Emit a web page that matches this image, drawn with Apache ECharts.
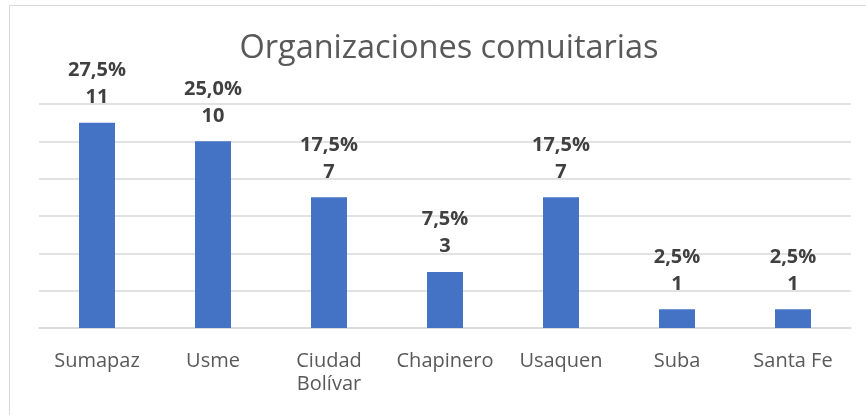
<!DOCTYPE html>
<html>
  <head>
    <meta charset="utf-8" />
    <title></title>
    <style type="text/css">
      html,
      body {
        margin: 0;
        width: 100%;
        height: 100%;
        background: #fff;
      }
      #main {
        width: 866px;
        height: 415px;
      }
    </style>
  </head>
  <body>
    <div id="main"></div>
    <script src="https://cdn.jsdelivr.net/npm/echarts@6/dist/echarts.min.js"></script>
    <script type="text/javascript">
      var localidades = ["Sumapaz", "Usme", "Ciudad\nBolívar", "Chapinero", "Usaquen", "Suba", "Santa Fe"];
      var cantidad = [11, 10, 7, 3, 7, 1, 1];
      var porcentaje = [27.5, 25.0, 17.5, 7.5, 17.5, 2.5, 2.5];

      var fuente = "'Open Sans', sans-serif";
      var chart = echarts.init(document.getElementById("main"));

      var option = {
        animation: false,
        backgroundColor: "#fff",
        title: {
          text: "Organizaciones comuitarias",
          left: 444,
          textAlign: "center",
          top: 27,
          textStyle: {
            fontFamily: fuente,
            fontSize: 32.5,
            fontWeight: "normal",
            color: "#595959",
          },
        },
        // marco del gráfico
        graphic: [
          {
            type: "rect",
            shape: { x: 9.5, y: 5.5, width: 900, height: 450 },
            style: { fill: "none", stroke: "#d9d9d9", lineWidth: 1 },
            silent: true,
          },
        ],
        grid: { left: 39, right: 15, top: 104, bottom: 87 },
        xAxis: {
          type: "category",
          data: localidades,
          axisTick: { show: false },
          axisLine: { lineStyle: { color: "#d9d9d9", width: 1.5 } },
          axisLabel: {
            interval: 0,
            fontFamily: fuente,
            fontSize: 20,
            color: "#595959",
            lineHeight: 23,
            margin: 22,
          },
        },
        yAxis: {
          type: "value",
          min: 0,
          max: 12,
          interval: 2,
          axisLabel: { show: false },
          splitLine: { lineStyle: { color: "#d9d9d9", width: 1.5 } },
        },
        series: [
          {
            type: "bar",
            data: cantidad,
            barWidth: 36,
            itemStyle: { color: "#4472c4" },
            label: {
              show: true,
              position: "top",
              distance: 12,
              fontFamily: fuente,
              fontSize: 20,
              fontWeight: "bold",
              color: "#404040",
              lineHeight: 27,
              formatter: function (p) {
                return porcentaje[p.dataIndex].toFixed(1).replace(".", ",") + "%\n" + p.value;
              },
            },
          },
        ],
      };

      chart.setOption(option);
    </script>
  </body>
</html>
